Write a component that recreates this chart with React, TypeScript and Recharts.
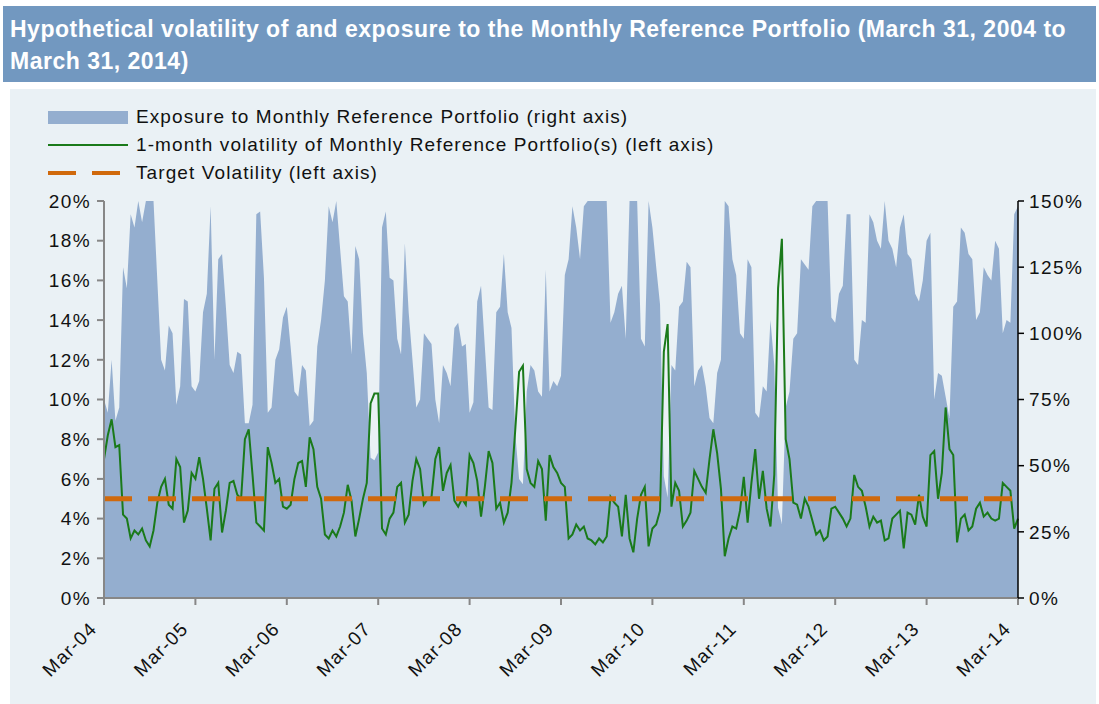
import React from "react";
import { ComposedChart, Area, Line, XAxis, YAxis, ReferenceLine } from "recharts";

// x axis: months since March 31, 2004, one reading every half month
const MONTH_STEP = 0.5;
const TICK_MONTHS = [0, 12, 24, 36, 48, 60, 72, 84, 96, 108, 120];
const TICK_LABELS = ["Mar-04", "Mar-05", "Mar-06", "Mar-07", "Mar-08", "Mar-09", "Mar-10", "Mar-11", "Mar-12", "Mar-13", "Mar-14"];
const LEFT_TICKS = [0, 2, 4, 6, 8, 10, 12, 14, 16, 18, 20];
const RIGHT_TICKS = [0, 25, 50, 75, 100, 125, 150];
const TARGET_VOL = 5;

// 1-month volatility (%), per year Mar..Feb
const VOL_04 = [7.0, 8.2, 9.0, 7.6, 7.7, 4.2, 4.0, 3.0, 3.4, 3.2, 3.5, 2.9, 2.6, 3.4, 4.8, 5.6, 6.0, 4.7, 4.5, 7.0, 6.6, 3.8, 4.4, 6.3];
const VOL_05 = [6.0, 7.1, 6.0, 4.5, 2.9, 5.5, 5.8, 3.3, 4.4, 5.8, 5.9, 5.2, 5.0, 8.0, 8.5, 6.2, 3.8, 3.6, 3.4, 7.6, 6.8, 5.8, 6.0, 4.6];
const VOL_06 = [4.5, 4.7, 6.0, 6.8, 6.9, 5.6, 8.1, 7.5, 5.6, 5.0, 3.2, 3.0, 3.4, 3.1, 3.6, 4.3, 5.7, 4.9, 3.1, 4.0, 5.0, 5.8, 9.8, 10.3];
const VOL_07 = [10.3, 3.5, 3.2, 4.0, 4.3, 5.6, 5.8, 3.8, 4.2, 5.9, 7.0, 6.5, 4.7, 5.0, 5.1, 7.0, 7.6, 5.4, 6.3, 6.7, 4.9, 4.6, 5.0, 4.7];
const VOL_08 = [7.2, 6.8, 5.9, 4.1, 5.6, 7.4, 6.8, 4.5, 4.8, 3.8, 4.3, 5.8, 8.5, 11.4, 11.7, 6.5, 5.8, 5.6, 6.9, 6.5, 3.9, 7.2, 6.6, 6.3];
const VOL_09 = [5.8, 5.6, 3.0, 3.2, 3.7, 3.4, 3.6, 3.0, 2.9, 2.7, 3.0, 2.8, 3.1, 5.1, 4.8, 4.6, 3.1, 5.2, 3.0, 2.3, 4.0, 5.2, 5.6, 2.6];
const VOL_10 = [3.5, 3.7, 4.4, 12.4, 13.8, 4.6, 5.8, 5.4, 3.6, 3.9, 4.3, 6.4, 6.0, 5.6, 5.3, 7.0, 8.5, 7.3, 5.5, 2.1, 3.0, 3.6, 3.5, 4.4];
const VOL_11 = [6.1, 3.8, 5.8, 7.5, 5.0, 6.4, 4.5, 3.6, 6.2, 15.6, 18.1, 8.0, 7.0, 4.8, 4.7, 4.0, 5.0, 4.6, 3.9, 3.2, 3.4, 2.9, 3.1, 4.5];
const VOL_12 = [4.6, 4.3, 4.0, 3.6, 4.0, 6.2, 5.6, 5.4, 4.6, 3.6, 4.1, 3.8, 3.9, 2.9, 3.0, 4.0, 4.2, 4.4, 2.5, 4.3, 4.2, 3.7, 5.2, 4.1];
const VOL_13 = [3.6, 7.2, 7.4, 5.0, 6.3, 9.6, 7.5, 7.2, 2.8, 4.0, 4.2, 3.4, 3.6, 4.5, 4.8, 4.1, 4.3, 4.0, 3.9, 4.0, 5.8, 5.6, 5.4, 3.5, 4.0];

// exposure to the portfolio (%), capped at 150%
const EXP_04 = [75, 70, 90, 67, 72, 125, 117, 145, 140, 150, 142, 150, 150, 150, 120, 90, 86, 103, 100, 73, 80, 113, 112, 80];
const EXP_05 = [78, 82, 108, 115, 148, 90, 128, 130, 110, 88, 85, 93, 92, 66, 66, 73, 145, 146, 121, 70, 72, 90, 94, 106];
const EXP_06 = [110, 95, 78, 76, 88, 86, 65, 67, 95, 105, 120, 148, 142, 150, 132, 114, 112, 92, 133, 128, 100, 85, 53, 52];
const EXP_07 = [55, 140, 146, 121, 120, 98, 92, 134, 108, 90, 72, 75, 100, 98, 96, 75, 66, 88, 85, 80, 102, 104, 95, 96];
const EXP_08 = [70, 74, 112, 118, 95, 72, 71, 108, 110, 130, 108, 102, 62, 45, 43, 78, 88, 86, 78, 76, 124, 78, 82, 80];
const EXP_09 = [84, 122, 128, 148, 140, 128, 148, 150, 150, 150, 150, 150, 150, 104, 108, 115, 118, 98, 150, 150, 150, 98, 95, 150];
const EXP_10 = [140, 125, 111, 46, 38, 88, 86, 110, 112, 127, 125, 80, 86, 88, 80, 68, 66, 85, 90, 150, 148, 128, 122, 100];
const EXP_11 = [98, 128, 125, 70, 68, 80, 78, 105, 88, 34, 28, 72, 78, 98, 100, 128, 126, 124, 148, 150, 150, 150, 150, 106];
const EXP_12 = [104, 115, 118, 145, 145, 90, 88, 105, 104, 145, 142, 135, 132, 150, 135, 132, 125, 140, 145, 130, 128, 115, 112, 120];
const EXP_13 = [135, 138, 75, 85, 84, 76, 68, 110, 112, 140, 138, 130, 128, 105, 108, 125, 122, 120, 135, 132, 100, 105, 104, 145, 148];

const VOLATILITY = [...VOL_04, ...VOL_05, ...VOL_06, ...VOL_07, ...VOL_08, ...VOL_09, ...VOL_10, ...VOL_11, ...VOL_12, ...VOL_13];
const EXPOSURE = [...EXP_04, ...EXP_05, ...EXP_06, ...EXP_07, ...EXP_08, ...EXP_09, ...EXP_10, ...EXP_11, ...EXP_12, ...EXP_13];

const data = VOLATILITY.map((vol, i) => ({
  m: i * MONTH_STEP,
  vol,
  exposure: EXPOSURE[i],
}));

const FONT = "'Liberation Sans', Arial, sans-serif";
const AREA_COLOR = "#94AECF";
const GREEN = "#1A7A1A";
const ORANGE = "#D0690C";

const XTick = (props: any) => {
  const { x, y, payload } = props;
  const label = TICK_LABELS[TICK_MONTHS.indexOf(payload.value)];
  const ax = x - 6;
  const ay = y + 23;
  return (
    <text
      x={ax}
      y={ay}
      transform={`rotate(-45 ${ax} ${ay})`}
      textAnchor="end"
      fontSize={19}
      letterSpacing={1.2}
      fill="#111"
      fontFamily={FONT}
    >
      {label}
    </text>
  );
};

const tickStyle = { fontSize: 19, fill: "#111", fontFamily: FONT, letterSpacing: 1.4 };

function LegendRows() {
  const row = { position: "absolute" as const, left: 48, height: 28, display: "flex", alignItems: "center" };
  const text = { position: "absolute" as const, left: 88, whiteSpace: "nowrap" as const, fontSize: 19, letterSpacing: 1.1, color: "#111", fontFamily: FONT };
  return (
    <>
      <div style={{ ...row, top: 103 }}>
        <div style={{ width: 80, height: 13, background: AREA_COLOR }} />
        <span style={text}>Exposure to Monthly Reference Portfolio (right axis)</span>
      </div>
      <div style={{ ...row, top: 131 }}>
        <div style={{ width: 80, height: 2, background: GREEN }} />
        <span style={text}>1-month volatility of Monthly Reference Portfolio(s) (left axis)</span>
      </div>
      <div style={{ ...row, top: 159 }}>
        <div style={{ width: 28, height: 4, background: ORANGE }} />
        <div style={{ width: 16 }} />
        <div style={{ width: 28, height: 4, background: ORANGE }} />
        <span style={text}>Target Volatility (left axis)</span>
      </div>
    </>
  );
}

export default function App() {
  return (
    <div style={{ position: "absolute", left: 0, top: 0, width: 1099, height: 704, background: "#fff", fontFamily: FONT }}>
      <div
        style={{
          position: "absolute",
          left: 3,
          top: 6,
          width: 1093,
          height: 76,
          background: "#7298C0",
          color: "#fff",
          fontWeight: "bold",
          fontSize: 23,
          letterSpacing: 0.5,
          lineHeight: "32px",
          padding: "7px 0 0 7px",
          boxSizing: "border-box",
          whiteSpace: "nowrap",
        }}
      >
        Hypothetical volatility of and exposure to the Monthly Reference Portfolio (March 31, 2004 to
        <br />
        March 31, 2014)
      </div>
      <div style={{ position: "absolute", left: 10, top: 89, width: 1086, height: 615, background: "#EAF1F5" }}>
        <ComposedChart
          width={1086}
          height={615}
          data={data}
          margin={{ top: 112, right: 8, bottom: 16, left: 34 }}
        >
          <XAxis
            dataKey="m"
            type="number"
            domain={[0, 120]}
            ticks={TICK_MONTHS}
            interval={0}
            height={90}
            tick={<XTick />}
            tickSize={7}
            axisLine={{ stroke: "#878787", strokeWidth: 2 }}
            tickLine={{ stroke: "#878787", strokeWidth: 2 }}
          />
          <YAxis
            yAxisId="left"
            orientation="left"
            width={60}
            domain={[0, 20]}
            ticks={LEFT_TICKS}
            interval={0}
            tickFormatter={(v: number) => `${v}%`}
            tick={tickStyle}
            tickSize={7}
            tickMargin={6}
            axisLine={{ stroke: "#878787", strokeWidth: 2 }}
            tickLine={{ stroke: "#878787", strokeWidth: 2 }}
          />
          <YAxis
            yAxisId="right"
            orientation="right"
            width={70}
            domain={[0, 150]}
            ticks={RIGHT_TICKS}
            interval={0}
            tickFormatter={(v: number) => `${v}%`}
            tick={{ ...tickStyle, textAnchor: "start" }}
            tickSize={6}
            tickMargin={5}
            axisLine={{ stroke: "#000", strokeWidth: 1.5 }}
            tickLine={{ stroke: "#000", strokeWidth: 1.5 }}
          />
          <Area
            yAxisId="right"
            type="linear"
            dataKey="exposure"
            fill={AREA_COLOR}
            fillOpacity={1}
            stroke="none"
            isAnimationActive={false}
          />
          <Line
            yAxisId="left"
            type="linear"
            dataKey="vol"
            stroke={GREEN}
            strokeWidth={2}
            dot={false}
            isAnimationActive={false}
          />
          <ReferenceLine
            yAxisId="left"
            y={TARGET_VOL}
            stroke={ORANGE}
            strokeWidth={5}
            strokeDasharray="28 16"
          />
        </ComposedChart>
      </div>
      <LegendRows />
    </div>
  );
}
